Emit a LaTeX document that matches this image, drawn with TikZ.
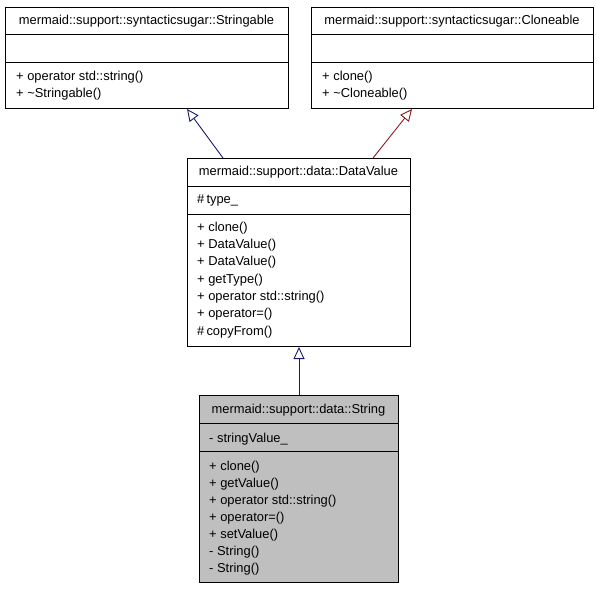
\documentclass[tikz,border=0pt]{standalone}
\usepackage{fontspec}
\setmainfont{Liberation Sans}
\usetikzlibrary{arrows.meta,calc}
\definecolor{edgeblue}{HTML}{191970}
\definecolor{edgered}{HTML}{8B1A1A}
\definecolor{boxgray}{HTML}{BFBFBF}
\begin{document}
\begin{tikzpicture}[x=1pt,y=-1pt,
  classbox/.style={draw=black, line width=1pt, inner sep=0pt, anchor=north west},
  divider/.style={draw=black, line width=1pt},
  txt/.style={font=\fontsize{12.9}{15}\selectfont, inner sep=0pt, anchor=base west},
  ttl/.style={font=\fontsize{12.9}{15}\selectfont, inner sep=0pt, anchor=base},
  inherit/.style={line width=0.9pt, -{Triangle[open,length=12pt,width=11pt,fill=white]}}]
\useasboundingbox (0,0) rectangle (597,589);

% Stringable
\node[classbox, minimum width=283pt, minimum height=101pt] (strg) at (5,7) {};
\draw[divider] (5,34) -- (288,34);
\draw[divider] (5,62) -- (288,62);
\node[ttl] (strg-t) at (146.5,24) {mermaid::support::syntacticsugar::Stringable};
\node[txt] (strg-m1) at (16,80) {+ operator std::string()};
\node[txt] (strg-m2) at (16,97) {+ \textasciitilde Stringable()};

% Cloneable
\node[classbox, minimum width=282pt, minimum height=101pt] (clon) at (311,7) {};
\draw[divider] (311,34) -- (593,34);
\draw[divider] (311,62) -- (593,62);
\node[ttl] (clon-t) at (452,24) {mermaid::support::syntacticsugar::Cloneable};
\node[txt] (clon-m1) at (322,80) {+ clone()};
\node[txt] (clon-m2) at (322,97) {+ \textasciitilde Cloneable()};

% DataValue
\node[classbox, minimum width=223pt, minimum height=188pt] (dv) at (187,158) {};
\draw[divider] (187,186) -- (410,186);
\draw[divider] (187,214) -- (410,214);
\node[ttl] (dv-t) at (298.5,175) {mermaid::support::data::DataValue};
\node[txt] (dv-a1) at (197,203) {\#\,type\_};
\foreach [count=\i from 0] \s in {+ clone(), + DataValue(), + DataValue(), + getType(),
    + operator std::string(), + operator=(), \#\,copyFrom()}
  \node[txt] (dv-m\i) at (197,231+17.35*\i) {\s};

% String
\node[classbox, fill=boxgray, minimum width=199pt, minimum height=187pt] (str) at (199,395) {};
\draw[divider] (199,423) -- (398,423);
\draw[divider] (199,451) -- (398,451);
\node[ttl] (str-t) at (298.5,413) {mermaid::support::data::String};
\node[txt] (str-a1) at (209,442) {- stringValue\_};
\foreach [count=\i from 0] \s in {+ clone(), + getValue(), + operator std::string(),
    + operator=(), + setValue(), - String(), - String()}
  \node[txt] (str-m\i) at (209,470+17.05*\i) {\s};

% inheritance
\draw[inherit, edgeblue] ($(dv.north west)+(36,0)$) -- ($(strg.south west)+(182,0)$);
\draw[inherit, edgered] ($(dv.north west)+(186,0)$) -- ($(clon.south west)+(101,0)$);
\draw[inherit, edgeblue] (str.north) -- (dv.south);
\end{tikzpicture}
\end{document}
